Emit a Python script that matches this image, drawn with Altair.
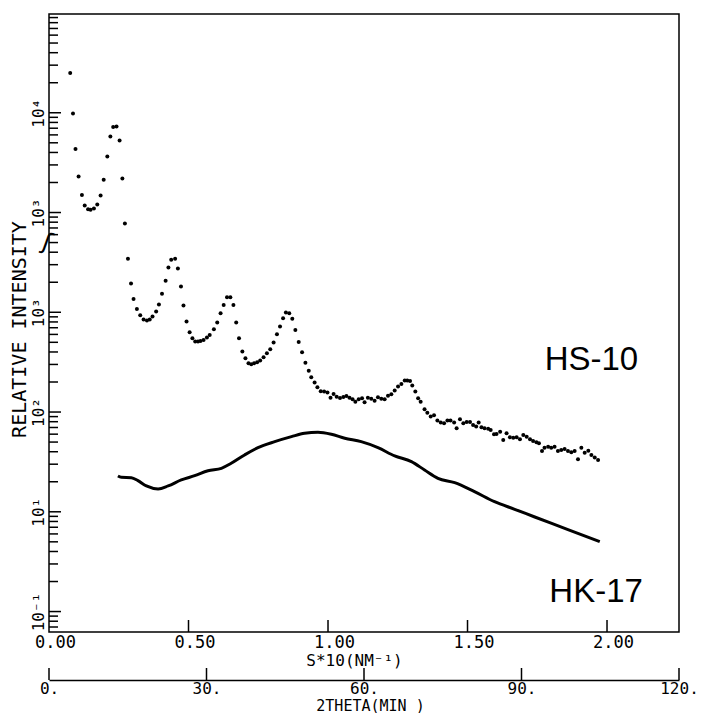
import altair as alt
import pandas as pd

# ---------------- data ----------------
# S*10 (nm^-1) and log10 of relative intensity (in the plot's own axis decades)
hs10_s = [0.076, 0.086, 0.095, 0.106, 0.118, 0.128, 0.140, 0.149, 0.161, 0.173,
          0.185, 0.196, 0.209, 0.220, 0.230, 0.242, 0.253, 0.263, 0.272, 0.283,
          0.294, 0.303, 0.315, 0.327, 0.339, 0.351, 0.361, 0.371, 0.384, 0.394,
          0.405, 0.418, 0.428, 0.438, 0.452, 0.462, 0.473, 0.482, 0.493, 0.504,
          0.514, 0.524, 0.534, 0.543, 0.554, 0.566, 0.576, 0.591, 0.603, 0.615,
          0.626, 0.638, 0.650, 0.661, 0.671, 0.681, 0.693, 0.704, 0.715, 0.725,
          0.735, 0.746, 0.757, 0.769, 0.781, 0.793, 0.805, 0.817, 0.828, 0.839,
          0.849, 0.861, 0.872, 0.883, 0.895, 0.907, 0.919, 0.931, 0.940, 0.952,
          0.962, 0.974, 0.986, 0.998, 1.009, 1.020, 1.031, 1.043, 1.055, 1.066,
          1.077, 1.088, 1.098, 1.110, 1.122, 1.131, 1.143, 1.155, 1.167, 1.179,
          1.191, 1.203, 1.215, 1.227, 1.239, 1.251, 1.263, 1.275, 1.284, 1.294,
          1.302, 1.313, 1.323, 1.332, 1.346, 1.356, 1.368, 1.380, 1.392, 1.404,
          1.416, 1.428, 1.439, 1.452, 1.461, 1.473, 1.485, 1.497, 1.509, 1.520,
          1.531, 1.540, 1.550, 1.561, 1.574, 1.583, 1.595, 1.604, 1.617, 1.628,
          1.640, 1.652, 1.664, 1.676, 1.688, 1.700, 1.712, 1.724, 1.735, 1.747,
          1.756, 1.767, 1.776, 1.789, 1.800, 1.812, 1.824, 1.836, 1.848, 1.860,
          1.872, 1.884, 1.896, 1.908, 1.920, 1.933, 1.944, 1.956, 1.968]
hs10_log10_intensity = [
          5.398, 4.993, 4.636, 4.361, 4.175, 4.070, 4.034, 4.027, 4.040, 4.080,
          4.170, 4.328, 4.562, 4.762, 4.857, 4.863, 4.722, 4.341, 3.890, 3.536,
          3.288, 3.134, 3.034, 2.971, 2.927, 2.917, 2.927, 2.957, 3.007, 3.077,
          3.185, 3.315, 3.448, 3.526, 3.536, 3.438, 3.258, 3.067, 2.907, 2.800,
          2.740, 2.706, 2.706, 2.713, 2.723, 2.746, 2.773, 2.830, 2.897, 2.991,
          3.074, 3.151, 3.151, 3.074, 2.897, 2.740, 2.606, 2.540, 2.489, 2.479,
          2.489, 2.500, 2.516, 2.550, 2.590, 2.630, 2.696, 2.780, 2.857, 2.941,
          2.999, 2.991, 2.934, 2.823, 2.703, 2.600, 2.495, 2.415, 2.349, 2.295,
          2.249, 2.209, 2.205, 2.195, 2.144, 2.182, 2.154, 2.141, 2.151, 2.161,
          2.144, 2.128, 2.104, 2.128, 2.138, 2.098, 2.144, 2.134, 2.114, 2.148,
          2.134, 2.128, 2.164, 2.179, 2.215, 2.255, 2.282, 2.315, 2.315, 2.312,
          2.265, 2.205, 2.138, 2.104, 2.028, 1.994, 1.954, 1.968, 1.914, 1.894,
          1.888, 1.914, 1.914, 1.894, 1.837, 1.928, 1.888, 1.901, 1.901, 1.871,
          1.854, 1.894, 1.848, 1.837, 1.833, 1.820, 1.777, 1.780, 1.803, 1.720,
          1.787, 1.747, 1.743, 1.747, 1.727, 1.770, 1.753, 1.727, 1.710, 1.697,
          1.687, 1.610, 1.643, 1.653, 1.643, 1.653, 1.610, 1.620, 1.630, 1.610,
          1.597, 1.610, 1.527, 1.643, 1.593, 1.613, 1.570, 1.543, 1.520]

hk17_s = [0.247, 0.259, 0.295, 0.319, 0.349, 0.391, 0.427, 0.474, 0.522, 0.570,
          0.618, 0.653, 0.701, 0.749, 0.809, 0.869, 0.916, 0.964, 1.012, 1.060,
          1.119, 1.179, 1.239, 1.299, 1.346, 1.394, 1.454, 1.525, 1.597, 1.669,
          1.741, 1.860, 1.974]
hk17_log10_intensity = [
          1.359, 1.346, 1.342, 1.312, 1.259, 1.229, 1.259, 1.319, 1.362, 1.412,
          1.436, 1.486, 1.570, 1.643, 1.703, 1.753, 1.787, 1.797, 1.777, 1.737,
          1.703, 1.643, 1.560, 1.503, 1.419, 1.336, 1.292, 1.202, 1.101, 1.025,
          0.948, 0.822, 0.700]

# axes
s_tick_values = [0.5, 1.0, 1.5, 2.0]
s_label_values = [0.0, 0.5, 1.0, 1.5, 2.0]
theta_values = [0, 30, 60, 90, 120]
y_label_values = [1, 10, 100, 1000, 10000, 100000]
y_label_texts = ['10⁻¹', '10¹', '10²', '10³', '10³', '10⁴']
s_domain = [0.0, 2.258]
theta_domain = [0, 120]
log_domain = [-0.205, 5.99]

# annotations
annot_text = ['HS-10', 'HK-17']
annot_s = [1.944, 1.961]
annot_log10 = [2.523, 0.191]
break_log10 = [3.696]

# ---------------- build tables ----------------
hs = pd.DataFrame({'s': hs10_s, 'intensity': [10 ** v for v in hs10_log10_intensity]})
hk = pd.DataFrame({'s': hk17_s, 'intensity': [10 ** v for v in hk17_log10_intensity]})
ann = pd.DataFrame({'s': annot_s, 'intensity': [10 ** v for v in annot_log10], 'label': annot_text})
brk = pd.DataFrame({'intensity': [10 ** v for v in break_log10], 'label': ['ʃ']})

major_ticks, minor_ticks = [], []
for d in range(-1, 6):
    for k in range(1, 10):
        v = k * 10 ** d
        if 10 ** log_domain[0] <= v <= 10 ** log_domain[1]:
            (major_ticks if k == 1 else minor_ticks).append(v)
ytm = pd.DataFrame({'intensity': major_ticks})
ytn = pd.DataFrame({'intensity': minor_ticks})
xt = pd.DataFrame({'s': s_tick_values})
tt = pd.DataFrame({'theta': theta_values})

W, H = 630, 618
FONT = 'DejaVu Sans Mono'
THETA_OFF = 48

label_expr = ' : '.join(f"datum.value == {v} ? '{t}'" for v, t in zip(y_label_values, y_label_texts)) + " : ''"

x_axis = alt.Axis(values=s_label_values, format='.2f', labelOffset=6, labelFlush=False,
                  ticks=False, tickSize=0, domain=False, grid=False,
                  labelFont=FONT, labelFontSize=17, labelColor='black',
                  labelBaseline='middle', labelPadding=10,
                  title='S*10(NM⁻¹)', titleFont=FONT, titleFontSize=16, titleFontWeight='normal',
                  titleColor='black', titleX=305, titleY=28, titleAlign='center',
                  titleBaseline='middle', titleAngle=0)
y_axis = alt.Axis(values=y_label_values, labelExpr=label_expr, ticks=False, tickSize=0,
                  domain=False, grid=False, labelFont=FONT, labelFontSize=16,
                  labelColor='black', labelAngle=270, labelAlign='center',
                  labelBaseline='bottom', labelPadding=3,
                  title='RELATIVE INTENSITY', titleFont=FONT, titleFontSize=20,
                  titleFontWeight='normal', titleColor='black', titleAngle=270,
                  titleX=-30, titleY=315, titleAlign='center', titleBaseline='middle')

X = alt.X('s:Q', scale=alt.Scale(domain=s_domain, nice=False, zero=False), axis=x_axis)
Y = alt.Y('intensity:Q', scale=alt.Scale(type='log', domain=[10 ** log_domain[0], 10 ** log_domain[1]], nice=False),
          axis=y_axis)

pts = alt.Chart(hs).mark_circle(size=16, color='black', opacity=1).encode(x=X, y=Y)
line = alt.Chart(hk).mark_line(color='black', strokeWidth=3, interpolate='monotone').encode(x=X, y=Y)
texts = alt.Chart(ann).mark_text(font='Liberation Sans', fontSize=33, color='black', align='center',
                                 baseline='middle').encode(x=X, y=Y, text='label:N')
ytick_major = alt.Chart(ytm).mark_rule(color='black', strokeWidth=1.5).encode(
    y=Y, x=alt.value(0), x2=alt.value(12))
ytick_minor = alt.Chart(ytn).mark_rule(color='black', strokeWidth=1.5).encode(
    y=Y, x=alt.value(0), x2=alt.value(9))
xtick = alt.Chart(xt).mark_rule(color='black', strokeWidth=1.5).encode(
    x=X, y=alt.value(H), y2=alt.value(H - 12))
brk_mark = alt.Chart(brk).mark_text(fontSize=24, color='black', font='DejaVu Sans',
                                    align='center', baseline='middle', angle=20).encode(
    y=Y, x=alt.value(-2), text='label:N')

main = alt.layer(ytick_major, ytick_minor, xtick, line, pts, texts, brk_mark)

theta_axis = alt.Axis(orient='bottom', offset=THETA_OFF, values=theta_values,
                      labelExpr="datum.value + '.'", labelFlush=False, ticks=False, tickSize=0,
                      domain=True, domainColor='black', domainWidth=1.5, grid=False,
                      labelFont=FONT, labelFontSize=16, labelColor='black',
                      labelBaseline='middle', labelPadding=8,
                      title='2THETA(MIN )', titleFont=FONT, titleFontSize=15,
                      titleFontWeight='normal', titleColor='black', titleX=321, titleY=25,
                      titleAlign='center', titleBaseline='middle', titleAngle=0)
theta_layer = alt.Chart(tt).mark_rule(color='black', strokeWidth=1.5).encode(
    x=alt.X('theta:Q', scale=alt.Scale(domain=theta_domain, nice=False, zero=False), axis=theta_axis),
    y=alt.value(H + THETA_OFF), y2=alt.value(H + THETA_OFF - 12))

chart = alt.layer(main, theta_layer).resolve_scale(x='independent').properties(
    width=W, height=H,
    autosize=alt.AutoSizeParams(type='none'),
    padding={'left': 49, 'top': 14, 'right': 28, 'bottom': 81},
    background='white',
).configure_view(stroke='black', strokeWidth=1.5)

chart.save('out.html', embed_options={'renderer': 'svg', 'actions': False})
